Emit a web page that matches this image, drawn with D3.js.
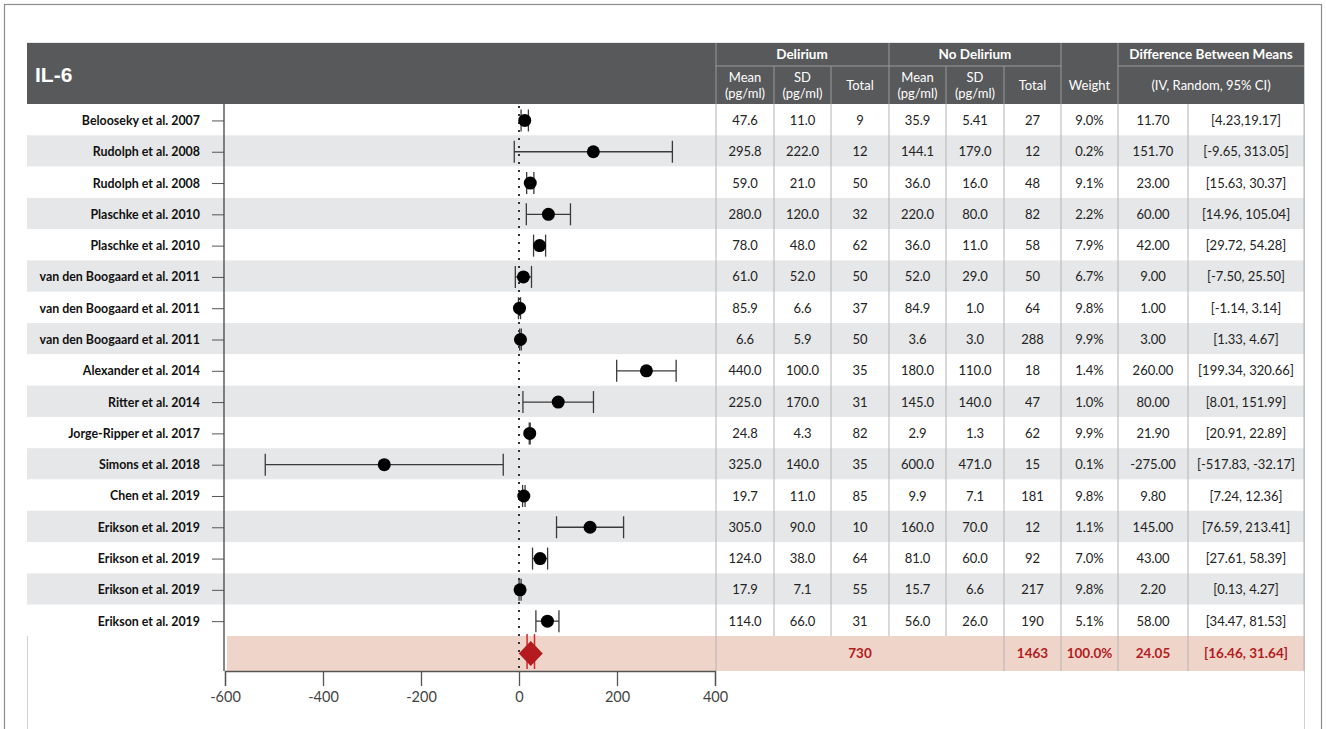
<!DOCTYPE html>
<html>
<head>
<meta charset="utf-8">
<script src="https://cdn.jsdelivr.net/npm/d3@7"></script>
<style>
  html, body { margin: 0; padding: 0; background: #fff; }
  svg { display: block; }
  text { font-family: Lato, "Open Sans", sans-serif; }
</style>
</head>
<body>
<svg id="chart" width="1326" height="729"></svg>
<script>
// ---- data ----
const studies = [
  "Belooseky et al. 2007", "Rudolph et al. 2008", "Rudolph et al. 2008",
  "Plaschke et al. 2010", "Plaschke et al. 2010", "van den Boogaard et al. 2011",
  "van den Boogaard et al. 2011", "van den Boogaard et al. 2011", "Alexander et al. 2014",
  "Ritter et al. 2014", "Jorge-Ripper et al. 2017", "Simons et al. 2018",
  "Chen et al. 2019", "Erikson et al. 2019", "Erikson et al. 2019",
  "Erikson et al. 2019", "Erikson et al. 2019"
];
const delMean  = ["47.6","295.8","59.0","280.0","78.0","61.0","85.9","6.6","440.0","225.0","24.8","325.0","19.7","305.0","124.0","17.9","114.0"];
const delSD    = ["11.0","222.0","21.0","120.0","48.0","52.0","6.6","5.9","100.0","170.0","4.3","140.0","11.0","90.0","38.0","7.1","66.0"];
const delTotal = [9,12,50,32,62,50,37,50,35,31,82,35,85,10,64,55,31];
const noMean   = ["35.9","144.1","36.0","220.0","36.0","52.0","84.9","3.6","180.0","145.0","2.9","600.0","9.9","160.0","81.0","15.7","56.0"];
const noSD     = ["5.41","179.0","16.0","80.0","11.0","29.0","1.0","3.0","110.0","140.0","1.3","471.0","7.1","70.0","60.0","6.6","26.0"];
const noTotal  = [27,12,48,82,58,50,64,288,18,47,62,15,181,12,92,217,190];
const weights  = ["9.0%","0.2%","9.1%","2.2%","7.9%","6.7%","9.8%","9.9%","1.4%","1.0%","9.9%","0.1%","9.8%","1.1%","7.0%","9.8%","5.1%"];
const diff     = [11.70,151.70,23.00,60.00,42.00,9.00,1.00,3.00,260.00,80.00,21.90,-275.00,9.80,145.00,43.00,2.20,58.00];
const ciLow    = [4.23,-9.65,15.63,14.96,29.72,-7.50,-1.14,1.33,199.34,8.01,20.91,-517.83,7.24,76.59,27.61,0.13,34.47];
const ciHigh   = [19.17,313.05,30.37,105.04,54.28,25.50,3.14,4.67,320.66,151.99,22.89,-32.17,12.36,213.41,58.39,4.27,81.53];

const pooledDelTotal = 730;
const pooledNoTotal = 1463;
const pooledWeight = "100.0%";
const pooledDiff = 24.05;
const pooledLow = 16.46;
const pooledHigh = 31.64;

const xTicks = [-600, -400, -200, 0, 200, 400];

// ---- layout ----
const svg = d3.select("#chart");
const panelL = 27, panelR = 1304;
const headTop = 43, headBot = 104;
const rowsBot = 636, sumBot = 671;
const colEdges = [716, 774, 831, 889, 946, 1004, 1061, 1118, 1188, 1304];
const colMid = i => (colEdges[i] + colEdges[i + 1]) / 2;

const x = d3.scaleLinear().domain([-600, 400]).range([225, 715]);
const y = d3.scaleBand().domain(d3.range(studies.length)).range([headBot, rowsBot]);
const yc = i => y(i) + y.bandwidth() / 2 + 0.8;

const DARK = "#58595b", STRIPE = "#e6e7e8", PINK = "#efd5c9", RED = "#b31b1e";

// outer frame and inner panel
svg.append("rect").attr("x", 4.5).attr("y", 4.5).attr("width", 1317).attr("height", 800)
  .attr("fill", "none").attr("stroke", "#8c8c8c").attr("stroke-width", 1.2);
svg.append("rect").attr("x", panelL + 0.5).attr("y", headTop).attr("width", panelR - panelL).attr("height", 800)
  .attr("fill", "#fff").attr("stroke", "#d0d0d0");

// striped rows
svg.append("g").selectAll("rect").data(studies).join("rect")
  .attr("x", panelL).attr("width", panelR - panelL)
  .attr("y", (d, i) => y(i)).attr("height", y.bandwidth())
  .attr("fill", (d, i) => i % 2 ? STRIPE : "#fff");

// pooled row band
svg.append("rect").attr("x", 227).attr("y", rowsBot).attr("width", panelR - 227).attr("height", sumBot - rowsBot)
  .attr("fill", PINK);

// header bar
svg.append("rect").attr("x", panelL).attr("y", headTop).attr("width", panelR - panelL).attr("height", headBot - headTop)
  .attr("fill", DARK);
svg.append("text").attr("x", 35).attr("y", 82).text("IL-6")
  .attr("fill", "#fff").attr("font-size", 21).attr("font-weight", 700)
  .style("font-family", "'Liberation Sans', Arial, sans-serif");

// header separators
const hs = svg.append("g").attr("stroke", "#9a9a9a").attr("stroke-width", 1);
[716, 889, 1061, 1118].forEach(cx => hs.append("line").attr("x1", cx).attr("x2", cx).attr("y1", headTop).attr("y2", headBot));
[774, 831, 946, 1004].forEach(cx => hs.append("line").attr("x1", cx).attr("x2", cx).attr("y1", 66).attr("y2", headBot));
[[716, 1061], [1118, 1304]].forEach(([a, b]) => hs.append("line").attr("x1", a).attr("x2", b).attr("y1", 66).attr("y2", 66));

// header labels
const ht = svg.append("g").attr("fill", "#fff").attr("font-weight", 700).attr("text-anchor", "middle");
ht.append("text").attr("x", 802).attr("y", 59).attr("font-size", 13.5).text("Delirium");
ht.append("text").attr("x", 975).attr("y", 59).attr("font-size", 13.5).text("No Delirium");
ht.append("text").attr("x", 1211).attr("y", 59).attr("font-size", 13.5).text("Difference Between Means");
[0, 3].forEach(o => {
  [["Mean", 0], ["SD", 1]].forEach(([lbl, k]) => {
    ht.append("text").attr("x", colMid(o + k)).attr("y", 82).attr("font-size", 13).attr("font-weight", 400).text(lbl);
    ht.append("text").attr("x", colMid(o + k)).attr("y", 98).attr("font-size", 13).attr("font-weight", 400).text("(pg/ml)");
  });
  ht.append("text").attr("x", colMid(o + 2)).attr("y", 90).attr("font-size", 13).attr("font-weight", 400).text("Total");
});
ht.append("text").attr("x", colMid(6)).attr("y", 90).attr("font-size", 13).attr("font-weight", 400).text("Weight");
ht.append("text").attr("x", 1211).attr("y", 90).attr("font-size", 13).attr("font-weight", 400).text("(IV, Random, 95% CI)");

// table grid lines in body
const gl = svg.append("g").attr("stroke", "#b4b4b4").attr("stroke-width", 1);
colEdges.forEach(cx => gl.append("line").attr("x1", cx).attr("x2", cx).attr("y1", headBot).attr("y2", rowsBot));
[716, 1004, 1061, 1118, 1188, 1304].forEach(cx => gl.append("line").attr("x1", cx).attr("x2", cx).attr("y1", rowsBot).attr("y2", sumBot));

// table values
const fmtCI = (lo, hi, i) => "[" + lo.toFixed(2) + (i === 0 ? "," : ", ") + hi.toFixed(2) + "]";
const cols = [delMean, delSD, delTotal, noMean, noSD, noTotal, weights,
  diff.map(d => d.toFixed(2)), ciLow.map((d, i) => fmtCI(d, ciHigh[i], i))];
const tb = svg.append("g").attr("font-size", 13).attr("fill", "#222").attr("text-anchor", "middle");
cols.forEach((col, c) => {
  tb.selectAll(null).data(col).join("text")
    .attr("x", colMid(c)).attr("y", (d, i) => yc(i)).attr("dy", "0.35em").text(d => d);
});

// pooled row text
const sumY = (rowsBot + sumBot) / 2;
const st = svg.append("g").attr("font-size", 13.5).attr("font-weight", 700).attr("fill", RED).attr("text-anchor", "middle");
[[colMid(2), pooledDelTotal], [colMid(5), pooledNoTotal], [colMid(6), pooledWeight],
 [colMid(7), pooledDiff.toFixed(2)], [colMid(8), "[" + pooledLow.toFixed(2) + ", " + pooledHigh.toFixed(2) + "]"]]
  .forEach(([cx, t]) => st.append("text").attr("x", cx).attr("y", sumY).attr("dy", "0.35em").text(t));

// study labels with left axis
const yAxis = d3.axisLeft(d3.scalePoint().domain(d3.range(studies.length)).range([yc(0), yc(studies.length - 1)]))
  .tickSize(12).tickPadding(12).tickFormat(i => studies[i]);
const ya = svg.append("g").attr("transform", "translate(224,0)").call(yAxis);
ya.select(".domain").remove();
ya.selectAll(".tick line").attr("stroke", "#555");
ya.selectAll(".tick text").attr("font-size", 12.4).attr("font-weight", 700).attr("fill", "#111")
  .style("font-family", "Lato, sans-serif");
svg.append("line").attr("x1", 224).attr("x2", 224).attr("y1", headBot).attr("y2", sumBot).attr("stroke", "#444").attr("stroke-width", 1.3);

// zero reference line
svg.append("line").attr("x1", x(0)).attr("x2", x(0)).attr("y1", headBot + 2).attr("y2", sumBot)
  .attr("stroke", "#333").attr("stroke-width", 2).attr("stroke-dasharray", "2,6");

// confidence intervals
const ci = svg.append("g").attr("stroke", "#3a3a3a").attr("stroke-width", 1.3);
studies.forEach((s, i) => {
  const cy = yc(i);
  ci.append("line").attr("x1", x(ciLow[i])).attr("x2", x(ciHigh[i])).attr("y1", cy).attr("y2", cy);
  [ciLow[i], ciHigh[i]].forEach(v =>
    ci.append("line").attr("x1", x(v)).attr("x2", x(v)).attr("y1", cy - 11).attr("y2", cy + 11));
});
svg.append("g").selectAll("circle").data(diff).join("circle")
  .attr("cx", d => x(d)).attr("cy", (d, i) => yc(i)).attr("r", 6.5).attr("fill", "#000");

// pooled estimate
[pooledLow, pooledHigh].forEach(v =>
  svg.append("line").attr("x1", x(v)).attr("x2", x(v)).attr("y1", rowsBot - 2).attr("y2", sumBot - 2)
    .attr("stroke", "#d6262b").attr("stroke-width", 1.5));
const px = x(pooledDiff);
svg.append("path")
  .attr("d", `M${px - 12},${sumY} L${px},${sumY - 12.5} L${px + 12},${sumY} L${px},${sumY + 12.5} Z`)
  .attr("fill", RED);

// x axis
const xAxis = d3.axisBottom(x).tickValues(xTicks).tickSize(15).tickPadding(6).tickFormat(d => String(d));
const xa = svg.append("g").attr("transform", `translate(0,${sumBot})`).call(xAxis);
xa.select(".domain").attr("stroke", "#555").attr("stroke-width", 1.3);
xa.selectAll(".tick line").attr("stroke", "#555").attr("stroke-width", 1.3);
xa.selectAll(".tick text").attr("font-size", 14.5).attr("fill", "#444").style("font-family", "Lato, sans-serif");
</script>
</body>
</html>
